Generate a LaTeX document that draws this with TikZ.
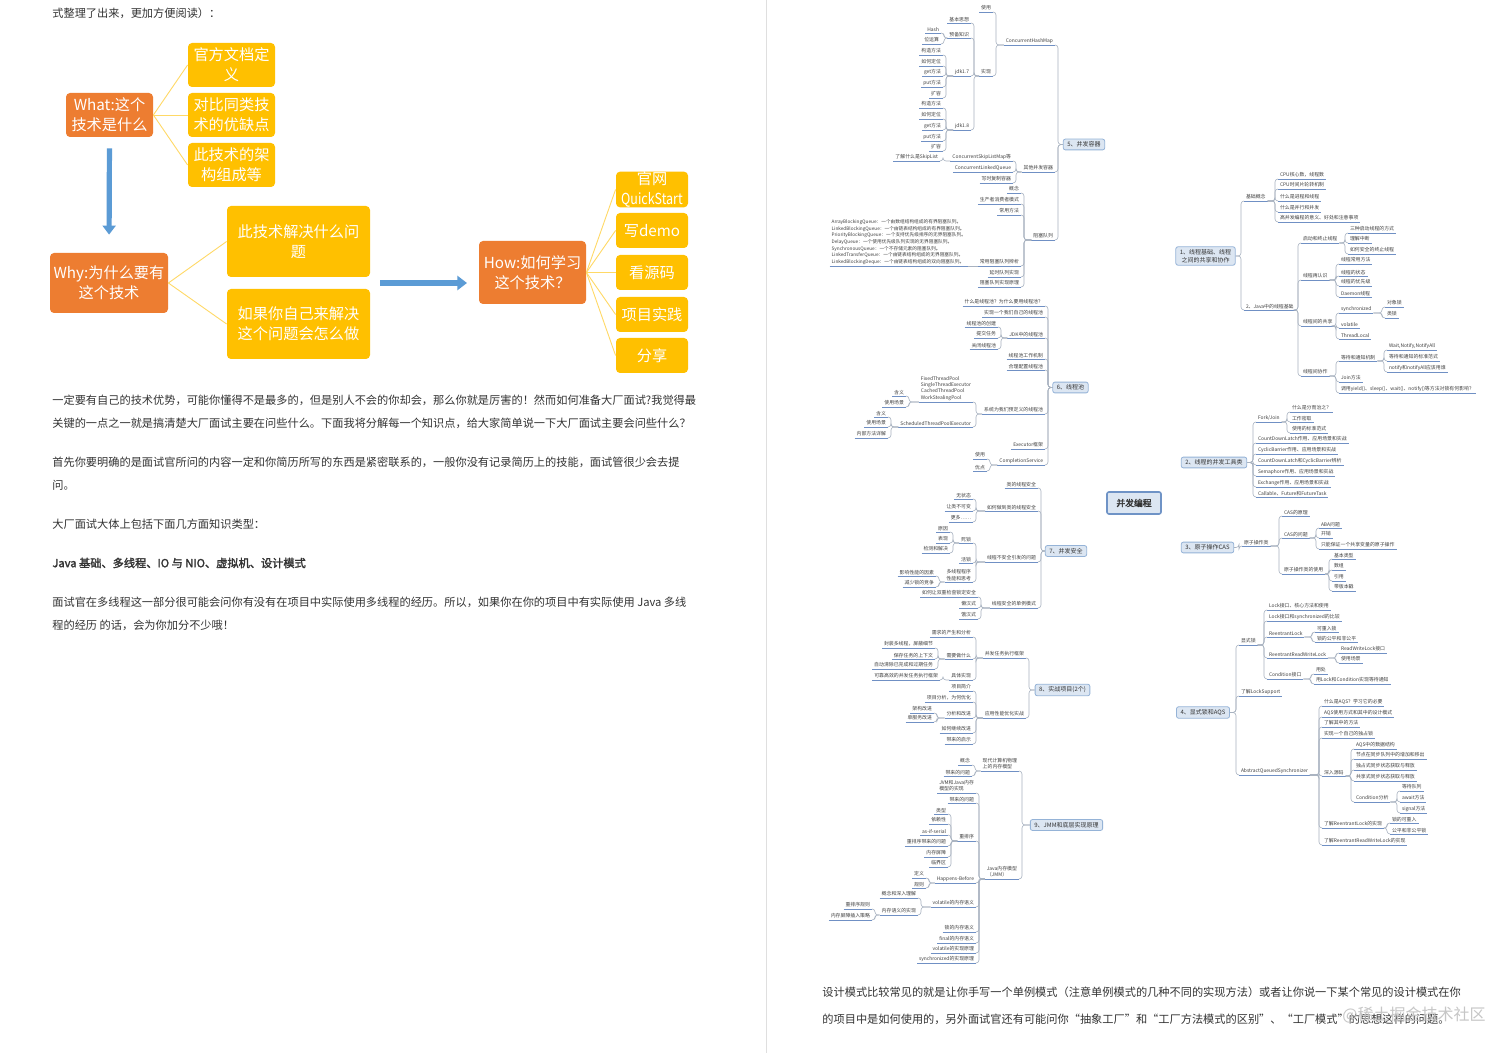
\documentclass[tikz,border=0pt]{standalone}
\usepackage{fontspec}
\setmainfont{Noto Sans CJK SC}[AutoFakeBold=2]
\usetikzlibrary{arrows.meta,calc}
\pgfdeclarelayer{bg}
\pgfsetlayers{bg,main}
\definecolor{orj}{HTML}{ED7D31}
\definecolor{yel}{HTML}{FFC000}
\definecolor{ylin}{HTML}{FFD966}
\definecolor{blu}{HTML}{5B9BD5}
\definecolor{txt}{HTML}{333333}
\definecolor{lftxt}{HTML}{404040}
\definecolor{boxf}{HTML}{DCE6F2}
\definecolor{boxd}{HTML}{95B3D7}
\definecolor{cend}{HTML}{6F93C6}
\definecolor{ulc}{HTML}{7090C4}
\definecolor{cnc}{HTML}{A8B2C0}
\definecolor{mcc}{HTML}{C4C4C4}
\tikzset{
 ob/.style={fill=orj,text=white,rounded corners=2pt,align=center,inner sep=0pt,font=\fontsize{7.6}{10}\selectfont},
 yb/.style={fill=yel,text=white,rounded corners=2pt,align=center,inner sep=0pt,font=\fontsize{7.6}{10}\selectfont},
 yl/.style={draw=ylin,line width=0.45pt},
 barrow/.style={draw=blu,line width=2.6pt,-{Triangle[width=6.5pt,length=4.5pt]}},
 para/.style={anchor=west,text=txt,inner sep=0pt,font=\fontsize{5.6}{7}\selectfont},
 lf/.style={text=lftxt,inner xsep=0.8pt,inner ysep=0.6pt,font=\fontsize{2.45}{3.1}\selectfont},
 ul/.style={draw=ulc,line width=0.35pt},
 cn/.style={draw=cnc,line width=0.3pt,rounded corners=1.5pt},
 mb/.style={draw=boxd,fill=boxf,rounded corners=1pt,align=center,text=txt,line width=0.4pt,inner xsep=2pt,inner ysep=1.3pt,font=\fontsize{3}{3.8}\selectfont},
 mc/.style={draw=mcc,line width=0.45pt}
}
\newcommand\mmL[5]{%
  \node[lf,anchor=south east,align=left] (#1) at (#2,#3) {#4};
  \draw[ul] (#1.south west) -- (#1.south east);
  \draw[cn] (#5) -| ($(#1.south east)+(3,0)$) -- (#1.south east);}
\newcommand\mmR[5]{%
  \node[lf,anchor=south west,align=left] (#1) at (#2,#3) {#4};
  \draw[ul] (#1.south west) -- (#1.south east);
  \draw[cn] (#5) -| ($(#1.south west)+(-3,0)$) -- (#1.south west);}
\begin{document}
\begin{tikzpicture}[x=0.5pt,y=-0.5pt]
\fill[white] (0,0) rectangle (1512,1053);
\useasboundingbox (0,0) rectangle (1512,1053);
\draw[gray!25,line width=0.5pt] (766,0) -- (766,1053);

% ---------- left page ----------
\node[para] (t0) at (52,13) {式整理了出来，更加方便阅读）：};

\node[ob,minimum width=43.5pt,minimum height=22pt] (what) at (109.5,115) {What:这个\\技术是什么};
\node[yb,minimum width=43.5pt,minimum height=22pt] (y1) at (231.5,65) {官方文档定\\义};
\node[yb,minimum width=43.5pt,minimum height=22pt] (y2) at (231.5,115) {对比同类技\\术的优缺点};
\node[yb,minimum width=43.5pt,minimum height=22pt] (y3) at (231.5,165) {此技术的架\\构组成等};
\draw[yl] (what.east) -- (y1.west);
\draw[yl] (what.east) -- (y2.west);
\draw[yl] (what.east) -- (y3.west);

\node[ob,minimum width=59pt,minimum height=30pt] (why) at (109,283) {Why:为什么要有\\这个技术};
\node[yb,minimum width=71.5pt,minimum height=35.5pt] (y4) at (298.5,241.5) {此技术解决什么问\\题};
\node[yb,minimum width=71.5pt,minimum height=35pt] (y5) at (298.5,324) {如果你自己来解决\\这个问题会怎么做};
\draw[yl] (why.east) -- (y4.west);
\draw[yl] (why.east) -- (y5.west);
\draw[barrow,shorten <=5.5pt,shorten >=9pt] (what.south) -- (why.north);

\node[ob,minimum width=53.5pt,minimum height=31.5pt] (how) at (532.5,272.5) {How:如何学习\\这个技术？};
\node[yb,minimum width=36pt,minimum height=17.5pt] (z1) at (652,189.5) {官网\\\scalebox{0.82}[1]{QuickStart}};
\node[yb,minimum width=36pt,minimum height=17.5pt] (z2) at (652,230.5) {写demo};
\node[yb,minimum width=36pt,minimum height=17.5pt] (z3) at (652,272.5) {看源码};
\node[yb,minimum width=36pt,minimum height=17.5pt] (z4) at (652,314.5) {项目实践};
\node[yb,minimum width=36pt,minimum height=17.5pt] (z5) at (652,355.5) {分享};
\foreach \k in {z1,z2,z3,z4,z5} \draw[yl] (how.east) -- (\k.west);
\coordinate (ha) at (380,283);
\coordinate (hb) at (467,283);
\draw[barrow,line width=3pt,-{Triangle[width=7pt,length=4.8pt]}] (ha) -- (hb);

\node[para] (l1) at (52,400) {一定要有自己的技术优势，可能你懂得不是最多的，但是别人不会的你却会，那么你就是厉害的！然而如何准备大厂面试?我觉得最};
\node[para] (l2) at (52,423) {关键的一点之一就是搞清楚大厂面试主要在问些什么。下面我将分解每一个知识点，给大家简单说一下大厂面试主要会问些什么？};
\node[para] (l3) at (52,462) {首先你要明确的是面试官所问的内容一定和你简历所写的东西是紧密联系的，一般你没有记录简历上的技能，面试管很少会去提};
\node[para] (l4) at (52,485) {问。};
\node[para] (l5) at (52,524) {大厂面试大体上包括下面几方面知识类型：};
\node[para,font=\fontsize{5.6}{7}\selectfont\bfseries] (l6) at (52,563) {Java 基础、多线程、IO 与 NIO、虚拟机、设计模式};
\node[para] (l7) at (52,602) {面试官在多线程这一部分很可能会问你有没有在项目中实际使用多线程的经历。所以，如果你在你的项目中有实际使用 Java 多线};
\node[para] (l8) at (52,625) {程的经历 的话，会为你加分不少哦！};

% ---------- right page: bottom text ----------
\node[para] (r1) at (822,992) {设计模式比较常见的就是让你手写一个单例模式（注意单例模式的几种不同的实现方法）或者让你说一下某个常见的设计模式在你};
\node[para] (r2) at (822,1019) {的项目中是如何使用的，另外面试官还有可能问你“抽象工厂”和“工厂方法模式的区别”、“工厂模式”的思想这样的问题。};
\node[anchor=east,text=gray!45,inner sep=0pt,font=\fontsize{8}{9}\selectfont] (wm) at (1486,1015) {@稀土掘金技术社区};

% ---------- mind map boxes ----------
\node[mb,draw=cend,line width=0.8pt,minimum width=27pt,minimum height=11pt,font=\fontsize{4.4}{5}\selectfont\bfseries] (c) at (1134,503) {并发编程};
\node[mb] (b1) at (1205.5,256) {1、线程基础、线程\\之间的共享和协作};
\node[mb] (b2) at (1214,462.5) {2、线程的并发工具类};
\node[mb] (b3) at (1207.5,547.5) {3、原子操作CAS};
\node[mb] (b4) at (1203,712.5) {4、显式锁和AQS};
\node[mb] (b5) at (1084,144.5) {5、并发容器};
\node[mb] (b6) at (1070.5,387.5) {6、线程池};
\node[mb] (b7) at (1066,551) {7、并发安全};
\node[mb] (b8) at (1062.5,690) {8、实战项目(2个)};
\node[mb] (b9) at (1066.5,825) {9、JMM和底层实现原理};
\begin{pgfonlayer}{bg}
\draw[mc] (c.center) to[out=85,in=180] (b1.west);
\draw[mc] (c.center) to[out=30,in=180] (b2.west);
\draw[mc] (c.center) to[out=-30,in=180] (b3.west);
\draw[mc] (c.center) to[out=-85,in=180] (b4.west);
\draw[mc] (c.center) to[out=95,in=0] (b5.east);
\draw[mc] (c.center) to[out=105,in=0] (b6.east);
\draw[mc] (c.center) to[out=200,in=0] (b7.east);
\draw[mc] (c.center) to[out=-100,in=0] (b8.east);
\draw[mc] (c.center) to[out=-92,in=0] (b9.east);
\end{pgfonlayer}

% ---- branch 5 ----
\mmL{e1}{1055}{45}{ConcurrentHashMap}{b5.west}
\mmL{e2}{1055}{172}{其他并发容器}{b5.west}
\mmL{e3}{1055}{240}{阻塞队列}{b5.west}
\mmL{e11}{993}{12}{使用}{e1.south west}
\mmL{e12}{993}{76}{实现}{e1.south west}
\mmL{e121}{971}{23}{基本思想}{e12.south west}
\mmL{e122}{971}{38}{预备知识}{e12.south west}
\mmL{e123}{971}{76}{jdk1.7}{e12.south west}
\mmL{e124}{971}{130}{jdk1.8}{e12.south west}
\mmL{e1221}{941}{33}{Hash}{e122.south west}
\mmL{e1222}{941}{44}{位运算}{e122.south west}
\mmL{f1}{943}{55}{构造方法}{e123.south west}
\mmL{f2}{943}{66}{如何定位}{e123.south west}
\mmL{f3}{943}{76}{get方法}{e123.south west}
\mmL{f4}{943}{87}{put方法}{e123.south west}
\mmL{f5}{943}{98}{扩容}{e123.south west}
\mmL{g1}{943}{108}{构造方法}{e124.south west}
\mmL{g2}{943}{119}{如何定位}{e124.south west}
\mmL{g3}{943}{130}{get方法}{e124.south west}
\mmL{g4}{943}{141}{put方法}{e124.south west}
\mmL{g5}{943}{151}{扩容}{e124.south west}
\mmL{e21}{1013}{161}{ConcurrentSkipListMap等}{e2.south west}
\mmL{e22}{1013}{172}{ConcurrentLinkedQueue}{e2.south west}
\mmL{e23}{1013}{183}{写时复制容器}{e2.south west}
\mmL{e211}{940}{161}{了解什么是SkipList}{e21.south west}
\mmL{e31}{1021}{193}{概念}{e3.south west}
\mmL{e32}{1021}{204}{生产者消费者模式}{e3.south west}
\mmL{e33}{1021}{215}{常用方法}{e3.south west}
\mmL{e34}{1021}{266}{常用阻塞队列辨析}{e3.south west}
\mmL{e35}{1021}{277}{延时队列实现}{e3.south west}
\mmL{e36}{1021}{287}{阻塞队列实现原理}{e3.south west}
\node[lf,anchor=south east,align=left,font=\fontsize{2.35}{3.3}\selectfont] (e341) at (968,266) {ArrayBlockingQueue：一个由数组结构组成的有界阻塞队列。\\LinkedBlockingQueue：一个由链表结构组成的有界阻塞队列。\\PriorityBlockingQueue：一个支持优先级排序的无界阻塞队列。\\DelayQueue：一个使用优先级队列实现的无界阻塞队列。\\SynchronousQueue：一个不存储元素的阻塞队列。\\LinkedTransferQueue：一个由链表结构组成的无界阻塞队列。\\LinkedBlockingDeque：一个由链表结构组成的双向阻塞队列。};
\draw[ul] (e341.south west) -- (e341.south east);
\draw[cn] (e34.south west) -- (e341.south east);

% ---- branch 6 ----
\mmL{h1}{1045}{306}{什么是线程池？为什么要用线程池？}{b6.west}
\mmL{h2}{1045}{317}{实现一个我们自己的线程池}{b6.west}
\mmL{h3}{1045}{338}{JDK中的线程池}{b6.west}
\mmL{h4}{1045}{359}{线程池工作机制}{b6.west}
\mmL{h5}{1045}{370}{合理配置线程池}{b6.west}
\mmL{h6}{1045}{414}{系统为我们预定义的线程池}{b6.west}
\mmL{h7}{1045}{449}{Executor框架}{b6.west}
\mmL{h8}{1045}{465}{CompletionService}{b6.west}
\mmL{h31}{998}{327}{线程池的创建}{h3.south west}
\mmL{h32}{998}{338}{提交任务}{h3.south west}
\mmL{h33}{998}{349}{关闭线程池}{h3.south west}
\mmL{h61}{973}{402}{FixedThreadPool\\SingleThreadExecutor\\CachedThreadPool\\WorkStealingPool}{h6.south west}
\mmL{h62}{973}{427}{ScheduledThreadPoolExecutor}{h6.south west}
\mmL{h611}{906}{396}{含义}{h61.south west}
\mmL{h612}{906}{407}{使用场景}{h61.south west}
\mmL{h621}{888}{417}{含义}{h62.south west}
\mmL{h622}{888}{427}{使用场景}{h62.south west}
\mmL{h623}{888}{438}{内部方法详解}{h62.south west}
\mmL{h81}{987}{459}{使用}{h8.south west}
\mmL{h82}{987}{471}{优点}{h8.south west}

% ---- branch 7 ----
\mmL{k1}{1038}{488}{类的线程安全}{b7.west}
\mmL{k2}{1038}{511}{如何做到类的线程安全}{b7.west}
\mmL{k3}{1038}{562}{线程不安全引发的问题}{b7.west}
\mmL{k4}{1038}{608}{线程安全的单例模式}{b7.west}
\mmL{k21}{973}{499}{无状态}{k2.south west}
\mmL{k22}{973}{511}{让类不可变}{k2.south west}
\mmL{k23}{973}{522}{更多……}{k2.south west}
\mmL{k31}{973}{543}{死锁}{k3.south west}
\mmL{k32}{973}{563}{活锁}{k3.south west}
\mmL{k33}{973}{582}{多线程程序\\性能和思考}{k3.south west}
\mmL{k311}{950}{532}{原因}{k31.south west}
\mmL{k312}{950}{543}{表现}{k31.south west}
\mmL{k313}{950}{553}{检测和解决}{k31.south west}
\mmL{k331}{936}{576}{影响性能的因素}{k33.south west}
\mmL{k332}{936}{587}{减少锁的竞争}{k33.south west}
\mmL{k41}{978}{597}{如何让双重检查锁定安全}{k4.south west}
\mmL{k42}{978}{608}{懒汉式}{k4.south west}
\mmL{k43}{978}{619}{饿汉式}{k4.south west}

% ---- branch 8 ----
\mmL{m1}{1026}{658}{并发任务执行框架}{b8.west}
\mmL{m2}{1026}{718}{应用性能优化实战}{b8.west}
\mmL{m11}{973}{637}{需求的产生和分析}{m1.south west}
\mmL{m12}{973}{659}{需要做什么}{m1.south west}
\mmL{m13}{973}{680}{具体实现}{m1.south west}
\mmL{m121}{935}{648}{封装多线程，屏蔽细节}{m12.south west}
\mmL{m122}{935}{659}{保存任务的上下文}{m12.south west}
\mmL{m123}{935}{669}{自动清除已完成和过期任务}{m12.south west}
\mmL{m131}{940}{680}{可靠高效的并发任务执行框架}{m13.south west}
\mmL{m21}{973}{691}{项目简介}{m2.south west}
\mmL{m22}{973}{702}{项目分析，为何优化}{m2.south west}
\mmL{m23}{973}{718}{分析和改进}{m2.south west}
\mmL{m24}{973}{733}{如何继续改进}{m2.south west}
\mmL{m25}{973}{744}{带来的启示}{m2.south west}
\mmL{m231}{934}{713}{架构改进}{m23.south west}
\mmL{m232}{934}{722}{单服务改进}{m23.south west}

% ---- branch 9 ----
\mmL{n1}{1019}{771}{现代计算机物理\\上的内存模型}{b9.west}
\mmL{n2}{1019}{879}{Java内存模型\\（JMM）}{b9.west}
\mmL{n11}{972}{765}{概念}{n1.south west}
\mmL{n12}{972}{776}{带来的问题}{n1.south west}
\mmL{n21}{976}{793}{JVM和Java内存\\模型的实现}{n2.south west}
\mmL{n22}{976}{803}{带来的问题}{n2.south west}
\mmL{n23}{976}{841}{重排序}{n2.south west}
\mmL{n24}{976}{883}{Happens-Before}{n2.south west}
\mmL{n25}{976}{907}{volatile的内存语义}{n2.south west}
\mmL{n26}{976}{932}{锁的内存语义}{n2.south west}
\mmL{n27}{976}{943}{final的内存语义}{n2.south west}
\mmL{n28}{976}{953}{volatile的实现原理}{n2.south west}
\mmL{n29}{976}{963}{synchronized的实现原理}{n2.south west}
\mmL{n231}{948}{814}{类型}{n23.south west}
\mmL{n232}{948}{824}{依赖性}{n23.south west}
\mmL{n233}{948}{835}{as-if-serial}{n23.south west}
\mmL{n234}{948}{846}{重排序带来的问题}{n23.south west}
\mmL{n235}{948}{857}{内存屏障}{n23.south west}
\mmL{n236}{948}{867}{临界区}{n23.south west}
\mmL{n241}{926}{878}{定义}{n24.south west}
\mmL{n242}{926}{888}{规则}{n24.south west}
\mmL{n251}{918}{898}{概念和深入理解}{n25.south west}
\mmL{n252}{918}{915}{内存语义的实现}{n25.south west}
\mmL{n2521}{872}{909}{重排序规则}{n252.south west}
\mmL{n2522}{872}{920}{内存屏障插入策略}{n252.south west}

% ---- branch 1 ----
\mmR{p1}{1244}{201}{基础概念}{b1.east}
\mmR{p2}{1244}{310}{2、Java中的线程基础}{b1.east}
\mmR{p11}{1278}{179}{CPU核心数，线程数}{p1.south east}
\mmR{p12}{1278}{189}{CPU时间片轮转机制}{p1.south east}
\mmR{p13}{1278}{201}{什么是进程和线程}{p1.south east}
\mmR{p14}{1278}{212}{什么是并行和并发}{p1.south east}
\mmR{p15}{1278}{222}{高并发编程的意义、好处和注意事项}{p1.south east}
\mmR{p21}{1301}{243}{启动和终止线程}{p2.south east}
\mmR{p22}{1301}{280}{线程再认识}{p2.south east}
\mmR{p23}{1301}{326}{线程间的共享}{p2.south east}
\mmR{p24}{1301}{376}{线程间协作}{p2.south east}
\mmR{p211}{1348}{233}{三种启动线程的方式}{p21.south east}
\mmR{p212}{1348}{243}{理解中断}{p21.south east}
\mmR{p213}{1348}{254}{如何安全的终止线程}{p21.south east}
\mmR{p221}{1339}{264}{线程常用方法}{p22.south east}
\mmR{p222}{1339}{276}{线程的状态}{p22.south east}
\mmR{p223}{1339}{286}{线程的优先级}{p22.south east}
\mmR{p224}{1339}{297}{Daemon线程}{p22.south east}
\mmR{p231}{1339}{313}{synchronized}{p23.south east}
\mmR{p232}{1339}{328}{volatile}{p23.south east}
\mmR{p233}{1339}{339}{ThreadLocal}{p23.south east}
\mmR{p2311}{1385}{307}{对象锁}{p231.south east}
\mmR{p2312}{1385}{318}{类锁}{p231.south east}
\mmR{p241}{1339}{361}{等待和通知机制}{p24.south east}
\mmR{p242}{1339}{382}{Join方法}{p24.south east}
\mmR{p243}{1339}{393}{调用yield()、sleep()、wait()、notify()等方法对锁有何影响？}{p24.south east}
\mmR{p2411}{1387}{350}{Wait,Notify,NotifyAll}{p241.south east}
\mmR{p2412}{1387}{361}{等待和通知的标准范式}{p241.south east}
\mmR{p2413}{1387}{372}{notify和notifyAll应该用谁}{p241.south east}

% ---- branch 2 ----
\mmR{q1}{1256}{422}{Fork/Join}{b2.east}
\mmR{q2}{1256}{443}{CountDownLatch作用、应用场景和实战}{b2.east}
\mmR{q3}{1256}{454}{CyclicBarrier作用、应用场景和实战}{b2.east}
\mmR{q4}{1256}{465}{CountDownLatch和CyclicBarrier辨析}{b2.east}
\mmR{q5}{1256}{476}{Semaphore作用、应用场景和实战}{b2.east}
\mmR{q6}{1256}{487}{Exchange作用、应用场景和实战}{b2.east}
\mmR{q7}{1256}{497}{Callable、Future和FutureTask}{b2.east}
\mmR{q11}{1290}{412}{什么是分而治之？}{q1.south east}
\mmR{q12}{1290}{422}{工作密取}{q1.south east}
\mmR{q13}{1290}{433}{使用的标准范式}{q1.south east}

% ---- branch 3 ----
\mmR{r1}{1242}{546}{原子操作类}{b3.east}
\mmR{r11}{1282}{516}{CAS的原理}{r1.south east}
\mmR{r12}{1282}{538}{CAS的问题}{r1.south east}
\mmR{r13}{1282}{574}{原子操作类的使用}{r1.south east}
\mmR{r121}{1319}{528}{ABA问题}{r12.south east}
\mmR{r122}{1319}{538}{开销}{r12.south east}
\mmR{r123}{1319}{549}{只能保证一个共享变量的原子操作}{r12.south east}
\mmR{r131}{1332}{559}{基本类型}{r13.south east}
\mmR{r132}{1332}{570}{数组}{r13.south east}
\mmR{r133}{1332}{581}{引用}{r13.south east}
\mmR{r134}{1332}{591}{带版本戳}{r13.south east}

% ---- branch 4 ----
\mmR{s1}{1239}{645}{显式锁}{b4.east}
\mmR{s2}{1239}{696}{了解LockSupport}{b4.east}
\mmR{s3}{1239}{775}{AbstractQueuedSynchronizer}{b4.east}
\mmR{s11}{1267}{610}{Lock接口、核心方法和使用}{s1.south east}
\mmR{s12}{1267}{621}{Lock接口和synchronized的比较}{s1.south east}
\mmR{s13}{1267}{637}{ReentrantLock}{s1.south east}
\mmR{s14}{1267}{658}{ReentrantReadWriteLock}{s1.south east}
\mmR{s15}{1267}{679}{Condition接口}{s1.south east}
\mmR{s131}{1315}{632}{可重入锁}{s13.south east}
\mmR{s132}{1315}{642}{锁的公平和非公平}{s13.south east}
\mmR{s141}{1339}{653}{ReadWriteLock接口}{s14.south east}
\mmR{s142}{1339}{663}{使用场景}{s14.south east}
\mmR{s151}{1314}{674}{用处}{s15.south east}
\mmR{s152}{1314}{684}{用Lock和Condition实现等待通知}{s15.south east}
\mmR{s31}{1322}{706}{什么是AQS？学习它的必要}{s3.south east}
\mmR{s32}{1322}{717}{AQS使用方式和其中的设计模式}{s3.south east}
\mmR{s33}{1322}{727}{了解其中的方法}{s3.south east}
\mmR{s34}{1322}{738}{实现一个自己的独占锁}{s3.south east}
\mmR{s35}{1322}{776}{深入源码}{s3.south east}
\mmR{s36}{1322}{828}{了解ReentrantLock的实现}{s3.south east}
\mmR{s37}{1322}{845}{了解ReentrantReadWriteLock的实现}{s3.south east}
\mmR{s351}{1354}{749}{AQS中的数据结构}{s35.south east}
\mmR{s352}{1354}{759}{节点在同步队列中的增加和移出}{s35.south east}
\mmR{s353}{1354}{770}{独占式同步状态获取与释放}{s35.south east}
\mmR{s354}{1354}{781}{共享式同步状态获取与释放}{s35.south east}
\mmR{s355}{1354}{802}{Condition分析}{s35.south east}
\mmR{s3551}{1400}{791}{等待队列}{s355.south east}
\mmR{s3552}{1400}{802}{await方法}{s355.south east}
\mmR{s3553}{1400}{813}{signal方法}{s355.south east}
\mmR{s361}{1390}{823}{锁的可重入}{s36.south east}
\mmR{s362}{1390}{834}{公平和非公平锁}{s36.south east}
\end{tikzpicture}
\end{document}
